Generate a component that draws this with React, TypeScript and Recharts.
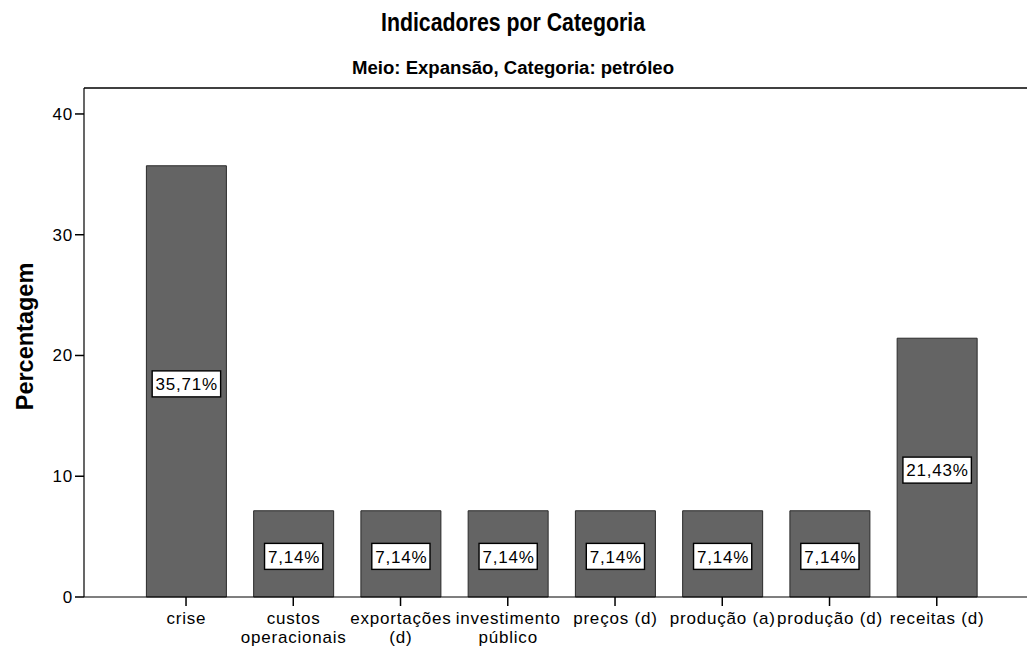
import React from 'react';
import { BarChart, Bar, XAxis, YAxis, ReferenceLine, LabelList } from 'recharts';

const categories = [
  'crise',
  'custos operacionais',
  'exportações (d)',
  'investimento público',
  'preços (d)',
  'produção (a)',
  'produção (d)',
  'receitas (d)',
];
const tickLines = [
  ['crise'],
  ['custos', 'operacionais'],
  ['exportações', '(d)'],
  ['investimento', 'público'],
  ['preços (d)'],
  ['produção (a)'],
  ['produção (d)'],
  ['receitas (d)'],
];
const percentages = [35.71, 7.14, 7.14, 7.14, 7.14, 7.14, 7.14, 21.43];
const yTicks = [0, 10, 20, 30, 40];
const yMax = 42.15;

const title = 'Indicadores por Categoria';
const subtitle = 'Meio: Expansão, Categoria: petróleo';
const yLabel = 'Percentagem';

const data = categories.map((c, i) => ({ name: c, value: percentages[i] }));

const FONT = '"Liberation Sans", Arial, sans-serif';
const TICK_FS = 17;
const LS = 0.8;

let ctx: CanvasRenderingContext2D | null = null;
function measure(text: string): number {
  if (!ctx) {
    const c = document.createElement('canvas');
    ctx = c.getContext('2d');
  }
  if (!ctx) return text.length * 9;
  ctx.font = `${TICK_FS}px "Liberation Sans", Arial, sans-serif`;
  return ctx.measureText(text).width + LS * text.length;
}

const fmt = (v: number) => v.toFixed(2).replace('.', ',') + '%';

const XTick = (props: any) => {
  const { x, y, payload } = props;
  const lines = tickLines[payload.index] || [String(payload.value)];
  return (
    <g>
      {lines.map((l, i) => (
        <text
          key={i}
          x={x + LS / 2}
          y={y + 18 + i * 18.5}
          textAnchor="middle"
          fontSize={TICK_FS}
          letterSpacing={LS}
          fontFamily={FONT}
          fill="#000"
        >
          {l}
        </text>
      ))}
    </g>
  );
};

const YTick = (props: any) => {
  const { x, y, payload } = props;
  return (
    <text
      x={x}
      y={y + 6}
      textAnchor="end"
      fontSize={TICK_FS}
      letterSpacing={LS}
      fontFamily={FONT}
      fill="#000"
    >
      {payload.value}
    </text>
  );
};

const BoxLabel = (props: any) => {
  const { x, y, width, height, value } = props;
  const text = fmt(Number(value));
  const w = measure(text) + 6;
  const cx = Number(x) + Number(width) / 2;
  const cy = Number(y) + Number(height) / 2 + 2.5;
  return (
    <g>
      <rect x={cx - w / 2} y={cy - 13} width={w} height={26} fill="#fff" stroke="#000" strokeWidth={1.4} />
      <text
        x={cx + LS / 2}
        y={cy + 6.2}
        textAnchor="middle"
        fontSize={TICK_FS}
        letterSpacing={LS}
        fontFamily={FONT}
        fill="#000"
      >
        {text}
      </text>
    </g>
  );
};

export default function App() {
  return (
    <div style={{ position: 'absolute', left: 0, top: 0, width: 1027, height: 651, background: '#fff' }}>
      <BarChart
        width={1027}
        height={651}
        data={data}
        margin={{ top: 88, right: 0, bottom: 0, left: 0 }}
      >
        <XAxis
          dataKey="name"
          interval={0}
          height={54}
          padding={{ left: 48.4, right: 36.6 }}
          tickSize={9}
          tickMargin={0}
          axisLine={{ stroke: '#000', strokeWidth: 1.2 }}
          tickLine={{ stroke: '#000', strokeWidth: 1.5 }}
          tick={<XTick />}
        />
        <YAxis
          type="number"
          domain={[0, yMax]}
          ticks={yTicks}
          width={84}
          tickSize={9}
          tickMargin={2}
          axisLine={{ stroke: '#000', strokeWidth: 1.2 }}
          tickLine={{ stroke: '#000', strokeWidth: 1.5 }}
          tick={<YTick />}
        />
        <ReferenceLine y={yMax} stroke="#000" strokeWidth={1.5} />
        <Bar dataKey="value" barSize={80} fill="#646464" stroke="#2a2a2a" strokeWidth={1} isAnimationActive={false}>
          <LabelList dataKey="value" content={<BoxLabel />} />
        </Bar>
      </BarChart>
      <svg
        width={1027}
        height={651}
        style={{ position: 'absolute', left: 0, top: 0, pointerEvents: 'none' }}
      >
        <text
          x={381}
          y={31}
          fontSize={26}
          fontWeight="bold"
          fontFamily={FONT}
          textLength={264}
          lengthAdjust="spacingAndGlyphs"
          fill="#000"
        >
          {title}
        </text>
        <text
          x={352}
          y={74}
          fontSize={18}
          fontWeight="bold"
          fontFamily={FONT}
          textLength={322}
          lengthAdjust="spacingAndGlyphs"
          fill="#000"
        >
          {subtitle}
        </text>
        <text
          transform="translate(33, 336.5) rotate(-90)"
          x={0}
          y={0}
          textAnchor="middle"
          fontSize={23.5}
          fontWeight="bold"
          fontFamily={FONT}
          fill="#000"
        >
          {yLabel}
        </text>
      </svg>
    </div>
  );
}
